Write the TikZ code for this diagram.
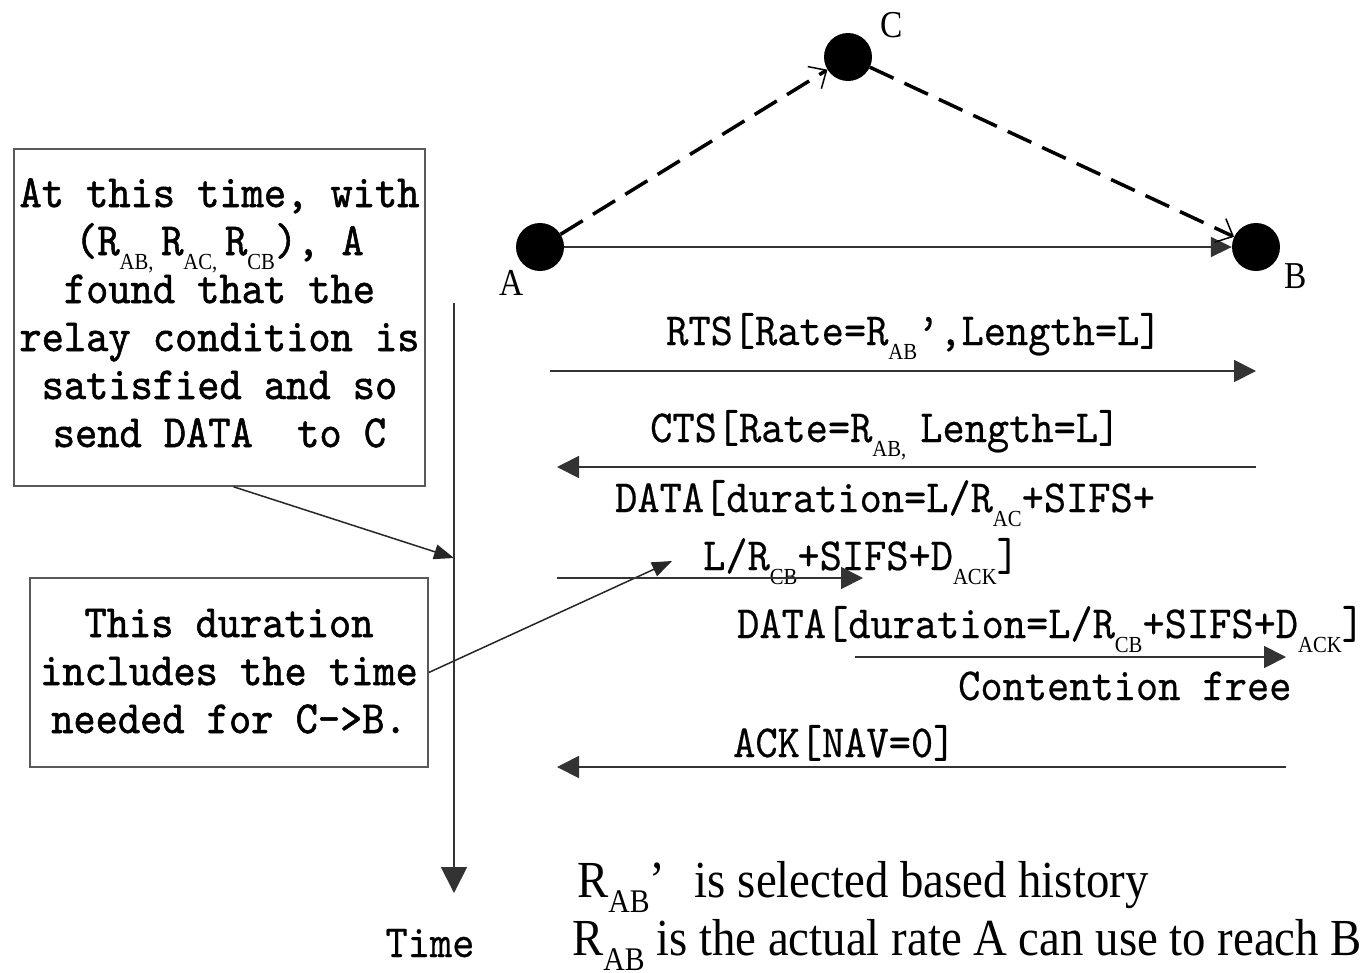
\documentclass[tikz,border=0pt]{standalone}
\usepackage{fontspec}
\usetikzlibrary{arrows.meta}
\newfontfamily\monolab[FakeStretch=0.92,FakeBold=0.4]{lmmono10-regular.otf}
\newfontfamily\monobox[FakeStretch=0.92,FakeBold=1.2]{lmmono10-regular.otf}
\newfontfamily\serc[FakeStretch=0.9]{Liberation Serif}
\newfontfamily\sernode[FakeStretch=0.88]{Liberation Serif}
\newcommand\lsub[1]{\raisebox{-14pt}{\serc\fontsize{23}{23}\selectfont #1}}
\newcommand\bsub[1]{\raisebox{-15pt}{\serc\fontsize{33}{33}\selectfont #1}}
\begin{document}
\begin{tikzpicture}[x=1pt,y=-1pt,
  dot/.style={circle,fill=black,inner sep=0pt,minimum size=48pt},
  nodelab/.style={font=\sernode\fontsize{38}{38}\selectfont,inner sep=0pt,anchor=base},
  lab/.style={font=\monolab\fontsize{46}{48}\selectfont,inner sep=0pt,anchor=base west},
  btxt/.style={font=\serc\fontsize{52}{52}\selectfont,inner sep=0pt,anchor=base west},
  boxst/.style={draw=black!65,line width=1.5pt,inner sep=0pt},
  boxtxt/.style={font=\monobox\fontsize{46}{48}\selectfont,inner sep=0pt,align=center,anchor=base},
  msg/.style={draw=black!80,line width=1.8pt,-{Triangle[length=22pt,width=22pt]}},
  direct/.style={draw=black!80,line width=1.8pt,-{Triangle[length=21pt,width=20pt]}},
  relay/.style={draw=black,line width=3.5pt,dash pattern=on 26pt off 12pt,
    -{Straight Barb[length=14pt,width=26pt,line width=1.5pt]}},
  axis/.style={draw=black!80,line width=1.8pt,-{Triangle[length=26pt,width=26pt]}},
  conn/.style={draw=black!85,line width=1.5pt,-{Triangle[length=20pt,width=15pt]}}
]
\fill[white] (0,0) rectangle (1364,972);
\useasboundingbox (0,0) rectangle (1364,972);

% stations
\node[dot] (A) at (540,247) {};
\node[dot] (C) at (848,57) {};
\node[dot] (B) at (1256,247) {};
\node[nodelab] (Alab) at (512,295) {A};
\node[nodelab] (Clab) at (892,37) {C};
\node[nodelab] (Blab) at (1296,288) {B};
\draw[direct] (A) -- (B);
\draw[relay] (A) -- (C);
\draw[relay] (C) -- (B);

% time axis
\coordinate (t0) at (454,303);
\coordinate (t1) at (454,893);
\draw[axis] (t0) -- (t1);
\node[lab,anchor=base] (time) at (430,957) {Time};

% explanatory boxes
\node[boxst,minimum width=411pt,minimum height=337pt] (box1) at (219.5,317.5) {};
\node[boxtxt] (box1txt) at (219.5,447) {At this time, with\\(R\lsub{AB,}\,R\lsub{AC,}\,R\lsub{CB}), A\\found that the\\relay condition is\\satisfied and so\\send DATA\ \ to C};
\node[boxst,minimum width=398pt,minimum height=189pt] (box2) at (229,672.5) {};
\node[boxtxt] (box2txt) at (229,733) {This duration\\includes the time\\needed for C->B.};
\coordinate (ax1) at (454,558);
\coordinate (tgt2) at (672,561);
\draw[conn] ([xshift=14pt]box1.south) -- (ax1);
\draw[conn] (box2.east) -- (tgt2);

% messages
\node[lab] (rts) at (666,345) {RTS[Rate=R\lsub{AB}’,Length=L]};
\coordinate (rtsS) at (550,371);
\coordinate (rtsE) at (1256,371);
\draw[msg] (rtsS) -- (rtsE);

\node[lab] (cts) at (650,442) {CTS[Rate=R\lsub{AB,}\hspace{14pt}Length=L]};
\coordinate (ctsS) at (1256,467);
\coordinate (ctsE) at (557,467);
\draw[msg] (ctsS) -- (ctsE);

\node[lab] (d1a) at (615,512) {DATA[duration=L/R\lsub{AC}+SIFS+};
\node[lab] (d1b) at (703,570) {L/R\lsub{CB}+SIFS+D\lsub{ACK}]};
\coordinate (d1S) at (557,578);
\coordinate (d1E) at (863,578);
\draw[msg] (d1S) -- (d1E);

\node[lab] (d2) at (737,638) {DATA[duration=L/R\lsub{CB}+SIFS+D\lsub{ACK}]};
\coordinate (d2S) at (855,657);
\coordinate (d2E) at (1286,657);
\draw[msg] (d2S) -- (d2E);
\node[lab] (cf) at (958,700) {Contention free};

\node[lab] (ack) at (733,757) {ACK[NAV=0]};
\coordinate (ackS) at (1286,767);
\coordinate (ackE) at (557,767);
\draw[msg] (ackS) -- (ackE);

% legend
\node[btxt] (leg1) at (577,897) {R\bsub{AB}’\hspace{18pt} is selected based history};
\node[btxt] (leg2) at (572,955) {R\bsub{AB} is the actual rate A can use to reach B};
\end{tikzpicture}
\end{document}
